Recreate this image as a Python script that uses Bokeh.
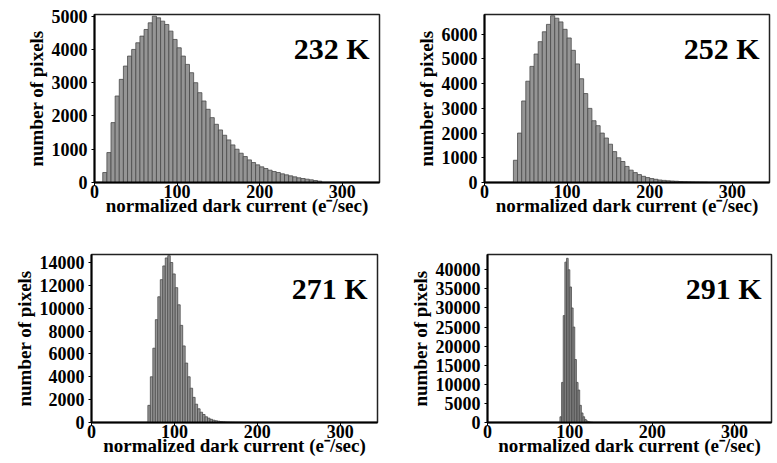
from bokeh.plotting import figure
from bokeh.layouts import column, row
from bokeh.models import Range1d, SingleIntervalTicker, Label
from bokeh.embed import file_html
from bokeh.resources import INLINE

# ---- data (bin centres in e-/sec, counts in pixels) ----
bins_232 = [12.5, 17.5, 22.5, 27.5, 32.5, 37.5, 42.5, 47.5, 52.5, 57.5, 62.5, 67.5,
            72.5, 77.5, 82.5, 87.5, 92.5, 97.5, 102.5, 107.5, 112.5, 117.5, 122.5,
            127.5, 132.5, 137.5, 142.5, 147.5, 152.5, 157.5, 162.5, 167.5, 172.5,
            177.5, 182.5, 187.5, 192.5, 197.5, 202.5, 207.5, 212.5, 217.5, 222.5,
            227.5, 232.5, 237.5, 242.5, 247.5, 252.5, 257.5, 262.5, 267.5, 272.5]
counts_232 = [300, 900, 1800, 2600, 3100, 3500, 3800, 4000, 4200, 4400, 4600, 4800,
              5000, 4950, 4850, 4750, 4550, 4300, 4050, 3800, 3550, 3300, 3000,
              2700, 2450, 2200, 1950, 1750, 1580, 1420, 1280, 1130, 1000,
              880, 780, 680, 600, 530, 470, 420, 370, 330, 300,
              260, 230, 200, 170, 140, 120, 100, 80, 60, 40]

bins_252 = [37.5, 42.5, 47.5, 52.5, 57.5, 62.5, 67.5, 72.5, 77.5, 82.5, 87.5, 92.5,
            97.5, 102.5, 107.5, 112.5, 117.5, 122.5, 127.5, 132.5, 137.5, 142.5,
            147.5, 152.5, 157.5, 162.5, 167.5, 172.5, 177.5, 182.5, 187.5, 192.5,
            197.5, 202.5, 207.5, 212.5, 217.5, 222.5, 227.5, 232.5, 237.5, 242.5,
            247.5, 252.5, 257.5, 262.5, 267.5]
counts_252 = [900, 2000, 3300, 4100, 4700, 5200, 5700, 6100, 6400, 6750, 6650, 6500,
              6200, 5850, 5350, 4800, 4200, 3600, 3000, 2500, 2300, 2000,
              1800, 1550, 1250, 1000, 850, 650, 500, 400, 320, 250,
              200, 160, 130, 100, 85, 70, 60, 50, 40, 30,
              25, 20, 15, 12, 10]

bins_271 = [69.5, 72.5, 75.5, 78.5, 81.5, 84.5, 87.5, 90.5, 93.5, 96.5, 99.5, 102.5,
            105.5, 108.5, 111.5, 114.5, 117.5, 120.5, 123.5, 126.5, 129.5, 132.5,
            135.5, 138.5, 141.5, 144.5, 147.5, 150.5, 153.5, 156.5, 159.5, 162.5,
            165.5, 168.5, 171.5, 174.5, 177.5, 180.5]
counts_271 = [1500, 4000, 6500, 9000, 11000, 12500, 13700, 14400, 14600, 14000, 13000, 11800,
              10300, 8500, 6700, 5200, 4000, 3000, 2200, 1600, 1200, 900,
              700, 500, 380, 280, 200, 150, 110, 80, 60, 45,
              35, 25, 20, 15, 10, 8]

bins_291 = [89, 91, 93, 95, 97, 99, 101, 103, 105, 107, 109, 111, 113, 115, 117,
            119, 121, 123, 125, 127]
counts_291 = [1500, 10500, 28000, 42000, 43000, 40000, 35500, 30000, 25000, 16500,
              10500, 8500, 4500, 2500, 1500, 800, 400, 200, 100, 50]

temps = ["232 K", "252 K", "271 K", "291 K"]
bin_widths = [5, 5, 3, 2]
y_max = [5050, 6800, 14700, 44000]
y_step = [1000, 1000, 2000, 5000]
x_max = 345
x_step = 100

x_title = "normalized dark current (e\u207b/sec)"
y_title = "number of pixels"

FONT = "Liberation Serif"


def panel(centers, counts, bw, ymax, ystep, label, width, height, bl, br, bt, bb):
    p = figure(width=width, height=height, output_backend="svg", toolbar_location=None,
               x_range=Range1d(0, x_max), y_range=Range1d(0, ymax),
               min_border_left=bl, min_border_right=br,
               min_border_top=bt, min_border_bottom=bb)
    p.vbar(x=centers, top=counts, width=bw, fill_color="#959595",
           line_color="#4a4a4a", line_width=0.8)
    p.xgrid.visible = False
    p.ygrid.visible = False
    p.outline_line_color = "#222222"
    p.outline_line_width = 1.5
    p.xaxis.ticker = SingleIntervalTicker(interval=x_step)
    p.yaxis.ticker = SingleIntervalTicker(interval=ystep)
    for ax in (p.xaxis[0], p.yaxis[0]):
        ax.axis_line_color = "black"
        ax.axis_line_width = 2
        ax.major_tick_line_color = "black"
        ax.major_tick_in = 0
        ax.major_tick_out = 3
        ax.minor_tick_line_color = None
        ax.major_label_text_font = FONT
        ax.major_label_text_font_style = "bold"
        ax.major_label_text_font_size = "18px"
        ax.major_label_text_color = "black"
        ax.axis_label_text_font = FONT
        ax.axis_label_text_font_style = "bold"
        ax.axis_label_text_font_size = "19px"
        ax.axis_label_text_color = "black"
    p.xaxis.axis_label = x_title
    p.yaxis.axis_label = y_title
    p.xaxis.major_label_standoff = -2
    p.xaxis.axis_label_standoff = -6
    p.yaxis.major_label_standoff = 3
    p.yaxis.axis_label_standoff = 2
    p.add_layout(Label(x=x_max * 0.965, y=ymax * 0.80, text=label, text_align="right",
                       text_baseline="alphabetic", text_font=FONT, text_font_style="bold",
                       text_font_size="30px", text_color="black"))
    return p


p1 = panel(bins_232, counts_232, bin_widths[0], y_max[0], y_step[0], temps[0],
           389, 234, 94, 10, 14, 52)
p2 = panel(bins_252, counts_252, bin_widths[1], y_max[1], y_step[1], temps[1],
           385, 234, 95, 5, 14, 52)
p3 = panel(bins_271, counts_271, bin_widths[2], y_max[2], y_step[2], temps[2],
           389, 227, 91, 12, 20, 39)
p4 = panel(bins_291, counts_291, bin_widths[3], y_max[3], y_step[3], temps[3],
           385, 227, 98, 3, 20, 39)

layout = column(row(p1, p2), row(p3, p4))

with open("out.html", "w") as f:
    f.write(file_html(layout, INLINE))
